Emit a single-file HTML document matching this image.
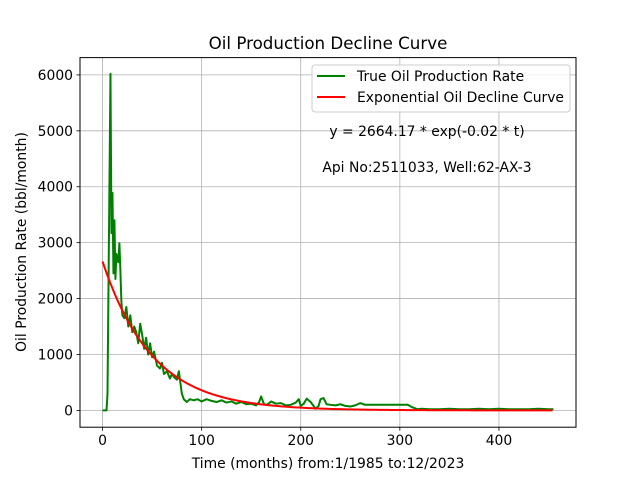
<!DOCTYPE html>
<html><head><meta charset="utf-8"><style>
body{margin:0;background:#fff;font-family:"Liberation Sans","DejaVu Sans",sans-serif;}
svg text{font-family:"DejaVu Sans","Liberation Sans",sans-serif;}
</style></head><body>
<svg id="chart" width="640" height="480" viewBox="0 0 640 480" xmlns="http://www.w3.org/2000/svg">
<rect width="640" height="480" fill="#fff"/>
<g id="grid"></g>
<g id="series"></g>
<rect x="80" y="57.6" width="496" height="369.6" fill="none" stroke="#000" stroke-width="1"/>
<g id="ticks"></g>
<text x="328" y="49" font-size="16.7" text-anchor="middle">Oil Production Decline Curve</text>
<text x="328" y="468" font-size="13.9" text-anchor="middle">Time (months) from:1/1985 to:12/2023</text>
<text transform="translate(26,242) rotate(-90)" font-size="13.9" text-anchor="middle">Oil Production Rate (bbl/month)</text>
<text x="427" y="136" font-size="13.9" text-anchor="middle">y = 2664.17 * exp(-0.02 * t)</text>
<text x="427" y="172" font-size="13.9" text-anchor="middle">Api No:2511033, Well:62-AX-3</text>
<g>
<rect x="312" y="65" width="258" height="47" rx="3" fill="#fff" fill-opacity="0.8" stroke="#ccc"/>
<line x1="317" y1="76" x2="345" y2="76" stroke="green" stroke-width="2"/>
<text x="357" y="81" font-size="13.9">True Oil Production Rate</text>
<line x1="317" y1="97" x2="345" y2="97" stroke="red" stroke-width="2"/>
<text x="357" y="102" font-size="13.9">Exponential Oil Decline Curve</text>
</g>
</svg>
<script>
const months=[0,4,5,8,9,10,11,12,13,14,15,16,17,18,19,20,22,24,26,28,30,32,34,36,38,40,42,44,46,48,50,52,55,58,60,62,65,68,70,72,75,77,80,82,85,88,92,96,100,105,110,115,120,125,130,135,140,145,150,155,158,160,163,166,170,175,180,185,190,195,198,200,203,206,210,215,218,220,223,226,230,235,240,245,250,255,260,265,270,280,290,300,308,312,318,322,330,340,350,360,370,380,390,400,410,420,430,440,450,455];
const oil=[0,0,300,6020,3170,3890,2450,3400,2350,2800,2700,2650,2990,2500,1950,1700,1650,1850,1500,1700,1400,1500,1400,1200,1550,1350,1100,1300,1000,1200,950,1050,800,750,850,650,700,570,650,600,550,700,300,200,150,200,180,200,160,200,170,150,180,140,160,120,150,110,120,90,150,250,110,100,160,120,130,90,100,140,200,80,120,210,150,30,80,200,220,110,100,90,110,80,70,90,130,100,100,100,100,100,100,60,20,30,20,20,30,20,20,30,20,30,20,20,20,30,20,20];
const A=2664.17, k=0.02, tMax=455;
const xs=t=>80+(t+22.75)/500.5*496;
const ys=v=>410.4-v*335.5/6000;
const NS="http://www.w3.org/2000/svg";
const grid=document.getElementById('grid'), ticks=document.getElementById('ticks'), series=document.getElementById('series');
const xTicks=[0,100,200,300,400], yTicks=[0,1000,2000,3000,4000,5000,6000];
function mk(tag,attrs,parent){const e=document.createElementNS(NS,tag);for(const k in attrs)e.setAttribute(k,attrs[k]);parent.appendChild(e);return e;}
xTicks.forEach(t=>{const x=xs(t);
 const g=mk('line',{x1:x,x2:x,y1:57.6,y2:427.2,stroke:'#b0b0b0','stroke-width':0.8},grid);
 
 
 mk('line',{x1:x,x2:x,y1:427.2,y2:430.7,stroke:'#000','stroke-width':0.8},ticks);
 const tx=mk('text',{x:x,y:445,'font-size':13.9,'text-anchor':'middle'},ticks);tx.textContent=t;
 
 
});
yTicks.forEach(v=>{const y=ys(v);
 const g=mk('line',{x1:80,x2:576,y1:y,y2:y,stroke:'#b0b0b0','stroke-width':0.8},grid);
 
 
 mk('line',{x1:76.5,x2:80,y1:y,y2:y,stroke:'#000','stroke-width':0.8},ticks);
 const tx=mk('text',{x:73,y:y+5,'font-size':13.9,'text-anchor':'end'},ticks);tx.textContent=v;
 
 
});
const pg=mk('polyline',{points:months.map((t,i)=>xs(t)+','+ys(oil[i])).join(' '),fill:'none',stroke:'green','stroke-width':2,'stroke-linejoin':'round'},series);


const fp=[];for(let t=0;t<=tMax;t+=2)fp.push(xs(t)+','+ys(A*Math.exp(-k*t)));
const pr=mk('polyline',{points:fp.join(' '),fill:'none',stroke:'red','stroke-width':2},series);


</script>
</body></html>
